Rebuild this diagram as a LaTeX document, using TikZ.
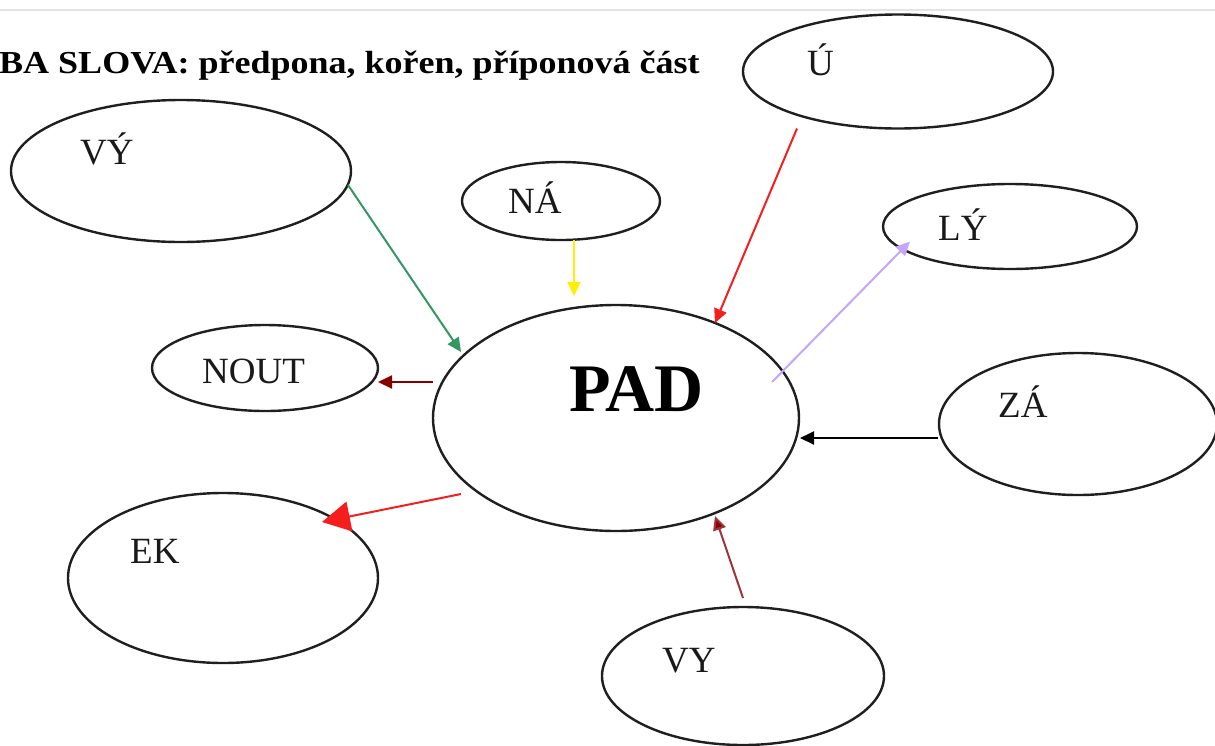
\documentclass[tikz,border=0pt]{standalone}
\usepackage{fontspec}
\setmainfont{Liberation Serif}
\usetikzlibrary{shapes.geometric,arrows.meta}
\definecolor{cgreen}{RGB}{52,150,96}
\definecolor{cyellow}{RGB}{255,240,0}
\definecolor{cred}{RGB}{245,30,30}
\definecolor{clav}{RGB}{196,165,250}
\definecolor{cdark}{RGB}{135,0,0}
\definecolor{cbrown}{RGB}{160,50,60}
\definecolor{cline}{RGB}{228,228,228}
\begin{document}
\begin{tikzpicture}[x=1pt,y=-1pt,
  bubble/.style={ellipse,draw=black!88,line width=2.4pt,inner sep=0pt},
  lbl/.style={anchor=base west,inner sep=0pt,font=\fontsize{37}{40}\selectfont,text=black!90},
  arr/.style={line width=2pt,-{Triangle[length=14pt,width=13pt]}},
  bigarr/.style={line width=2pt,-{Triangle[length=28pt,width=30pt]}}]
\useasboundingbox (0,0) rectangle (1215,745);
\clip (0,0) rectangle (1215,745);
\draw[cline,line width=1.5pt] (0,10) -- (1215,10);
% title
\node[anchor=base west,inner sep=0pt,xscale=1.125,font=\bfseries\fontsize{32}{34}\selectfont] (title) at (-1,73) {BA SLOVA: předpona, kořen, příponová část};
% ellipses
\node[bubble,minimum width=340pt,minimum height=142pt] (vy1) at (181,171) {};
\node[bubble,minimum width=198pt,minimum height=78pt] (na) at (561,201) {};
\node[bubble,minimum width=310pt,minimum height=114pt] (u) at (898,71.5) {};
\node[bubble,minimum width=254pt,minimum height=85pt] (ly) at (1010,226.5) {};
\node[bubble,minimum width=366pt,minimum height=226pt] (pad) at (616,418) {};
\node[bubble,minimum width=226pt,minimum height=86pt] (nout) at (265,368) {};
\node[bubble,minimum width=278pt,minimum height=142pt] (za) at (1078,424) {};
\node[bubble,minimum width=310pt,minimum height=170pt] (ek) at (223,578) {};
\node[bubble,minimum width=282pt,minimum height=138pt] (vy2) at (743,676) {};
% labels
\node[lbl] (tvy1) at (80,164) {VÝ};
\node[lbl] (tna) at (508,213) {NÁ};
\node[lbl] (tu) at (807,75) {Ú};
\node[lbl] (tly) at (938,240) {LÝ};
\node[lbl] (tza) at (998,417) {ZÁ};
\node[lbl] (tnout) at (202,383) {NOUT};
\node[lbl] (tek) at (130,563) {EK};
\node[lbl] (tvy2) at (662,672) {VY};
\node[anchor=base west,inner sep=0pt,font=\bfseries\fontsize{68}{72}\selectfont] (tpad) at (569,411) {PAD};
% arrows
\draw[arr,cgreen] ([shift={(167,14)}]vy1.center) -- ([shift={(-155,-66)}]pad.center);
\draw[arr,cyellow] ([shift={(13,39)}]na.center) -- ([shift={(-42,-122)}]pad.center);
\draw[arr,cred] ([shift={(-101,57)}]u.center) -- ([shift={(99,-95)}]pad.center);
\draw[arr,clav] ([shift={(156,-36)}]pad.center) -- ([shift={(-100,15)}]ly.center);
\draw[arr,black] ([shift={(-140,14)}]za.center) -- ([shift={(184,20)}]pad.center);
\draw[arr,cdark] ([shift={(-183,-36)}]pad.center) -- ([shift={(113,14)}]nout.center);
\draw[bigarr,cred] ([shift={(-155,76)}]pad.center) -- ([shift={(99,-56)}]ek.center);
\draw[line width=2pt,cbrown,-{Triangle[length=14pt,width=13pt,fill=cdark]}] ([shift={(0,-78)}]vy2.center) -- ([shift={(99,98)}]pad.center);
\end{tikzpicture}
\end{document}
